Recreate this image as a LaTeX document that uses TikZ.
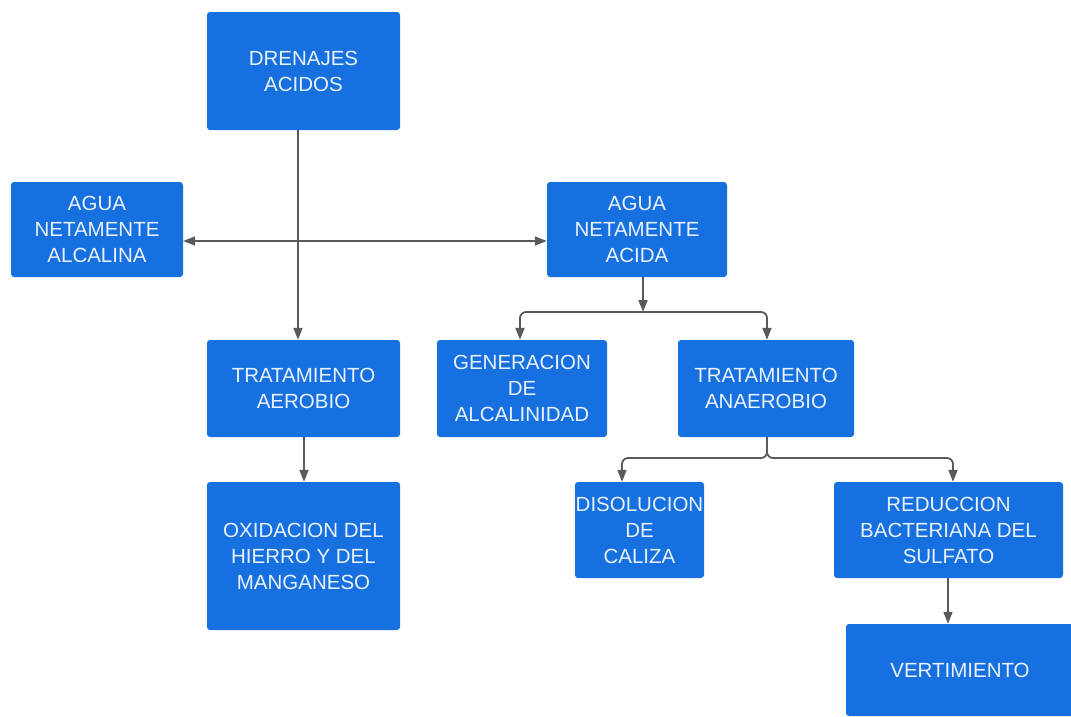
\documentclass[tikz,border=0pt]{standalone}
\usepackage{fontspec}
\setmainfont{Liberation Sans}
\usetikzlibrary{arrows.meta,positioning}
\definecolor{cajaazul}{HTML}{1770DF}
\definecolor{textoclaro}{HTML}{EAF2FF}
\definecolor{lineagris}{HTML}{5A5A5A}
\tikzset{
    caja/.style={fill=cajaazul, text=textoclaro, rounded corners=3pt, align=center,
        inner sep=0pt, font=\fontsize{20.5}{26}\selectfont},
    flecha/.style={draw=lineagris, line width=1.8pt, -{Triangle[length=12pt,width=9pt]}},
    doble/.style={draw=lineagris, line width=1.8pt, {Triangle[length=12pt,width=9pt]}-{Triangle[length=12pt,width=9pt]}},
}
\begin{document}
\begin{tikzpicture}[x=1pt,y=-1pt]
    \useasboundingbox (0,0) rectangle (1071,716);
    \clip (0,0) rectangle (1071,716);
    % cajas
    \node[caja, minimum width=193pt, minimum height=118pt] (drenajes) at (303.5,71) {DRENAJES\\ACIDOS};
    \node[caja, minimum width=172pt, minimum height=95pt] (alcalina) at (97,229.5) {AGUA\\NETAMENTE\\ALCALINA};
    \node[caja, minimum width=180pt, minimum height=95pt] (acida) at (637,229.5) {AGUA\\NETAMENTE\\ACIDA};
    \node[caja, minimum width=193pt, minimum height=97pt] (aerobio) at (303.5,388.5) {TRATAMIENTO\\AEROBIO};
    \node[caja, minimum width=170pt, minimum height=97pt] (generacion) at (522,388.5) {GENERACION\\DE\\ALCALINIDAD};
    \node[caja, minimum width=176pt, minimum height=97pt] (anaerobio) at (766,388.5) {TRATAMIENTO\\ANAEROBIO};
    \node[caja, minimum width=193pt, minimum height=148pt] (oxidacion) at (303.5,556) {OXIDACION DEL\\HIERRO Y DEL\\MANGANESO};
    \node[caja, minimum width=129pt, minimum height=96pt] (disolucion) at (639.5,530) {DISOLUCION\\DE\\CALIZA};
    \node[caja, minimum width=229pt, minimum height=96pt] (reduccion) at (948.5,530) {REDUCCION\\BACTERIANA DEL\\SULFATO};
    \node[caja, minimum width=228pt, minimum height=92pt] (vertimiento) at (960,670) {VERTIMIENTO};
    % puntos de union
    \coordinate (cruce) at (298,241);
    \coordinate (ramaA) at (643,312);
    \coordinate (ramaB) at (767,458);
    % conectores
    \draw[flecha] (drenajes.south -| cruce) -- (aerobio.north -| cruce);
    \draw[doble] (alcalina.east |- cruce) -- (acida.west |- cruce);
    \draw[flecha] (acida.south -| ramaA) -- (ramaA);
    \draw[flecha, rounded corners=6pt] (ramaA) -| ([xshift=-2pt]generacion.north);
    \draw[flecha, rounded corners=6pt] (ramaA) -| ([xshift=1pt]anaerobio.north);
    \draw[flecha] ([xshift=0.5pt]aerobio.south) -- ([xshift=0.5pt]oxidacion.north);
    \draw[flecha, rounded corners=6pt] (anaerobio.south -| ramaB) |- ([xshift=-17.5pt]disolucion.north |- ramaB) -- ([xshift=-17.5pt]disolucion.north);
    \draw[flecha, rounded corners=6pt] (anaerobio.south -| ramaB) |- ([xshift=4.5pt]reduccion.north |- ramaB) -- ([xshift=4.5pt]reduccion.north);
    \draw[flecha] ([xshift=-12pt]vertimiento.north |- reduccion.south) -- ([xshift=-12pt]vertimiento.north);
\end{tikzpicture}
\end{document}
